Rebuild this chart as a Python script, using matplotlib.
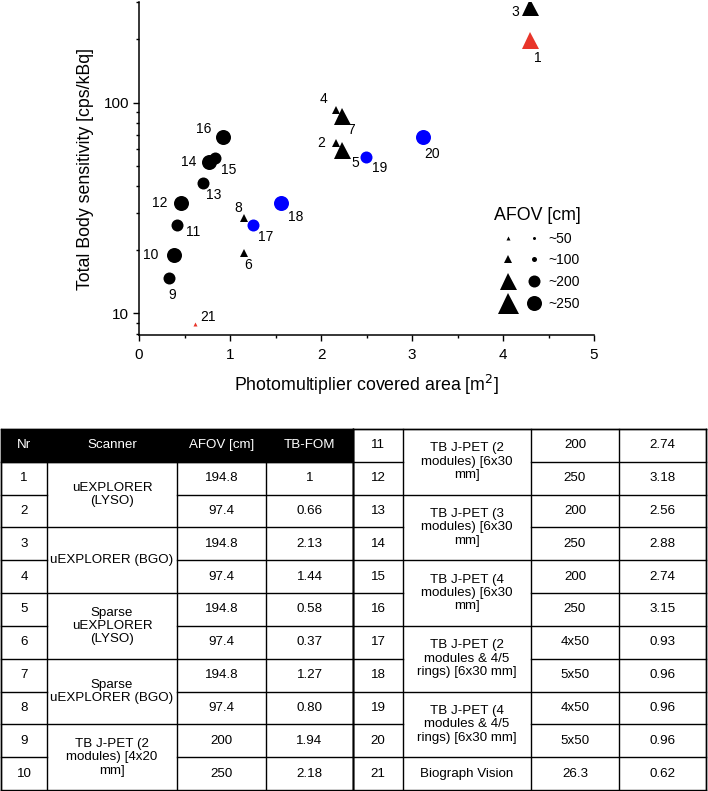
import matplotlib
matplotlib.use("Agg")
import matplotlib.pyplot as plt
from matplotlib.lines import Line2D
from matplotlib.patches import Rectangle
from matplotlib.legend_handler import HandlerTuple
from matplotlib.ticker import MultipleLocator, LogLocator, NullFormatter, FixedLocator, FixedFormatter

plt.rcParams['font.family'] = ['Liberation Sans', 'DejaVu Sans']

# ---- scatter data ----
nr = list(range(1, 22))
area = [4.30, 2.16, 4.30, 2.16, 2.23, 1.15, 2.23, 1.15, 0.33, 0.38, 0.42,
        0.46, 0.70, 0.77, 0.835, 0.92, 1.25, 1.56, 2.49, 3.12, 0.62]
sens = [199, 64.3, 283, 92.6, 59.7, 19.4, 86.1, 28.2, 14.8, 18.9, 26.4,
        33.5, 41.7, 52.0, 54.5, 68.4, 26.4, 33.5, 54.9, 68.4, 8.9]
afov_class = [200, 100, 200, 100, 200, 100, 200, 100, 200, 250, 200,
              250, 200, 250, 200, 250, 200, 250, 200, 250, 50]
shapes = ['^'] * 8 + ['o'] * 12 + ['^']
colors = (['#e8352a'] + ['k'] * 15 + ['#0000ff'] * 4 + ['#e8352a'])
# label offsets in pixels (dx, dy downwards)
lab_off = [(8, 18), (-14, 0), (-15, 5), (-12, -11), (13, 13), (4, 12), (9, 14),
           (-5, -10), (3, 17), (-23, 0), (16, 7), (-21, 0), (11, 12), (-20, 0),
           (14, 12), (-19, -8), (13, 12), (15, 14), (14, 11), (9, 17), (13, -7)]

legend_classes = [50, 100, 200, 250]
legend_labels = ['~50', '~100', '~200', '~250']

# ---- table data ----
left_nr = [str(i) for i in range(1, 11)]
left_scanner = ["uEXPLORER\n(LYSO)", "uEXPLORER (BGO)", "Sparse\nuEXPLORER\n(LYSO)",
                "Sparse\nuEXPLORER (BGO)", "TB J-PET (2\nmodules) [4x20\nmm]"]
left_span = [2, 2, 2, 2, 2]
left_afov = ["194.8", "97.4", "194.8", "97.4", "194.8", "97.4", "194.8", "97.4", "200", "250"]
left_fom = ["1", "0.66", "2.13", "1.44", "0.58", "0.37", "1.27", "0.80", "1.94", "2.18"]

right_nr = [str(i) for i in range(11, 22)]
right_scanner = ["TB J-PET (2\nmodules) [6x30\nmm]", "TB J-PET (3\nmodules) [6x30\nmm]",
                 "TB J-PET (4\nmodules) [6x30\nmm]", "TB J-PET (2\nmodules & 4/5\nrings) [6x30 mm]",
                 "TB J-PET (4\nmodules & 4/5\nrings) [6x30 mm]", "Biograph Vision"]
right_span = [2, 2, 2, 2, 2, 1]
right_afov = ["200", "250", "200", "250", "200", "250", "4x50", "5x50", "4x50", "5x50", "26.3"]
right_fom = ["2.74", "3.18", "2.56", "2.88", "2.74", "3.15", "0.93", "0.96", "0.96", "0.96", "0.62"]
header = ["Nr", "Scanner", "AFOV [cm]", "TB-FOM"]

tri_px = {50: 4, 100: 7.5, 200: 17, 250: 21}
circ_px = {50: 3, 100: 5, 200: 12, 250: 15}
PX = 0.72  # points per pixel at dpi 100

W, H = 708, 791
fig = plt.figure(figsize=(W / 100, H / 100), dpi=100)

ax = fig.add_axes([139 / W, 1 - 335 / H, (594 - 139) / W, (335 - 2) / H])
for x, y, a, m, c in zip(area, sens, afov_class, shapes, colors):
    size = tri_px[a] if m == '^' else circ_px[a]
    ax.plot(x, y, marker=m, ls='', color=c, ms=size * PX, mew=0)
for n, x, y, (dx, dy) in zip(nr, area, sens, lab_off):
    ax.annotate(str(n), (x, y), xytext=(dx, -dy), textcoords='offset pixels',
                ha='center', va='center', fontsize=10)

ax.set_yscale('log')
ax.set_xlim(0, 5)
ax.set_ylim(7.9, 300)
ax.xaxis.set_major_locator(MultipleLocator(1))
ax.xaxis.set_minor_locator(MultipleLocator(0.5))
ax.yaxis.set_major_locator(FixedLocator([10, 100]))
ax.yaxis.set_major_formatter(FixedFormatter(['10', '100']))
ax.yaxis.set_minor_locator(LogLocator(base=10, subs=range(2, 10)))
ax.yaxis.set_minor_formatter(NullFormatter())
for s in ['top', 'right']:
    ax.spines[s].set_visible(False)
for s in ['left', 'bottom']:
    ax.spines[s].set_linewidth(1.1)
ax.tick_params(which='major', direction='out', length=4, width=1, labelsize=11, pad=3)
ax.tick_params(axis='x', which='major', pad=5)
ax.tick_params(which='minor', direction='out', length=2.5, width=1)
ax.set_xlabel('Photomultiplier covered area [m$^2$]', fontsize=12.8, labelpad=8)
ax.set_ylabel('Total Body sensitivity [cps/kBq]', fontsize=12.8, labelpad=7)

handles = [(Line2D([], [], marker='^', ls='', color='k', ms=tri_px[c] * PX, mew=0),
            Line2D([], [], marker='o', ls='', color='k', ms=circ_px[c] * PX, mew=0))
           for c in legend_classes]
ax.legend(handles, legend_labels, handler_map={tuple: HandlerTuple(ndivide=None, pad=0)},
          title='AFOV [cm]', title_fontsize=12.8, fontsize=10, frameon=False,
          loc='upper left', bbox_to_anchor=(494 / W, 1 - 207 / H), bbox_transform=fig.transFigure,
          borderpad=0, handlelength=3.8, handletextpad=0.1, labelspacing=0.55, borderaxespad=0)

# ---- table ----
tfs = 9.6

tax = fig.add_axes([0, 1 / H, 1, 361 / H])
tax.set_xlim(0, W)
tax.set_ylim(11, 0)
tax.axis('off')


def hline(x0, x1, y):
    tax.plot([x0, x1], [y, y], color='black', lw=1.0, clip_on=False, solid_capstyle='projecting')


def vline(x, y0, y1):
    tax.plot([x, x], [y0, y1], color='black', lw=1.0, clip_on=False, solid_capstyle='projecting')


def cell_text(x0, x1, y, s, **kw):
    tax.text((x0 + x1) / 2, y, s, ha='center', va='center', fontsize=tfs, **kw)


def draw_table(xe, row0, nrs, scanners, spans, afovs, foms, with_header):
    if with_header:
        tax.add_patch(Rectangle((xe[0], 0), xe[-1] - xe[0], 1, color='black', clip_on=False))
        for i, h in enumerate(header):
            cell_text(xe[i], xe[i + 1], 0.5, h, color='white')
    for x in xe:
        vline(x, row0, 11)
    vline(xe[0], 0, 11)
    vline(xe[-1], 0, 11)
    hline(xe[0], xe[-1], 0)
    hline(xe[0], xe[-1], 11)
    r = row0
    k = 0
    for name, span in zip(scanners, spans):
        hline(xe[0], xe[-1], r)
        cell_text(xe[1], xe[2], r + span / 2, name, linespacing=1.15)
        for j in range(span):
            rr = r + j
            if j > 0:
                hline(xe[0], xe[1], rr)
                hline(xe[2], xe[-1], rr)
            cell_text(xe[0], xe[1], rr + 0.5, nrs[k])
            cell_text(xe[2], xe[3], rr + 0.5, afovs[k])
            cell_text(xe[3], xe[4], rr + 0.5, foms[k])
            k += 1
        r += span


draw_table([1, 47, 177, 266, 353], 1, left_nr, left_scanner, left_span, left_afov, left_fom, True)
draw_table([353, 403, 531, 619, 706], 0, right_nr, right_scanner, right_span, right_afov, right_fom, False)

fig.savefig('out.png', dpi=100)
